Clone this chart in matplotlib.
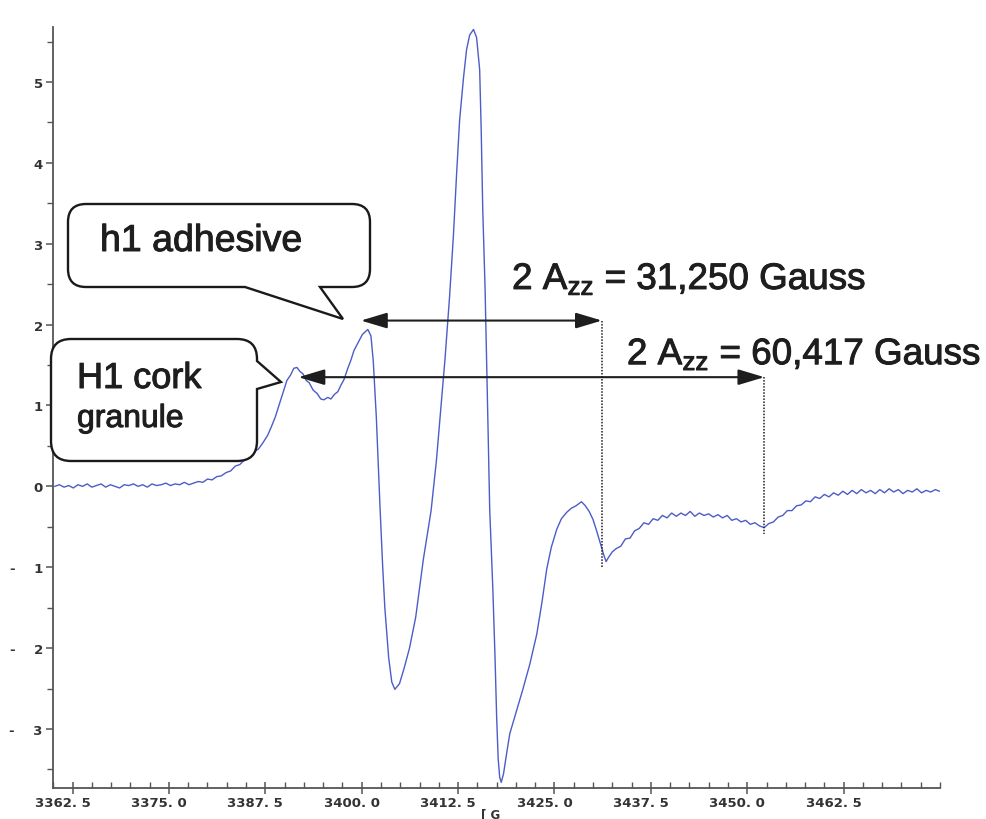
import matplotlib
matplotlib.use("Agg")
import matplotlib.pyplot as plt
import matplotlib.transforms as mtransforms
import matplotlib.patheffects as pe
from matplotlib.path import Path
from matplotlib.patches import PathPatch

# EPR spectrum: field [G] and first-derivative signal
field_g = [
    3360.2, 3360.8, 3361.4, 3362.0, 3362.6, 3363.2, 3363.8, 3364.4, 3365.0, 3365.6,
    3366.2, 3366.8, 3367.4, 3368.0, 3368.6, 3369.2, 3369.8, 3370.4, 3371.0, 3371.6,
    3372.2, 3372.8, 3373.4, 3374.0, 3374.6, 3375.2, 3375.8, 3376.4, 3377.0, 3377.6,
    3378.2, 3378.8, 3379.4,
    3380.0, 3380.6, 3381.2, 3381.8, 3382.4, 3383.0, 3383.6, 3384.2, 3384.8, 3385.4,
    3386.0, 3386.6, 3387.2, 3387.8, 3388.3, 3388.8, 3389.3, 3389.8, 3390.3, 3390.8,
    3391.2, 3391.6, 3392.0, 3392.4, 3392.8, 3393.2, 3393.7, 3394.2, 3394.7, 3395.1,
    3395.6, 3396.0, 3396.5, 3396.9, 3397.3, 3397.7, 3398.2, 3398.6, 3399.0, 3399.5,
    3400.1, 3400.8, 3401.2, 3401.5, 3401.9, 3402.35, 3402.7, 3403.0, 3403.5, 3403.9,
    3404.3, 3404.9, 3405.5, 3406.2, 3407.0, 3408.0, 3409.0, 3409.7, 3410.3, 3410.8,
    3411.4, 3411.9, 3412.3, 3412.7, 3413.2, 3413.6, 3414.0, 3414.5, 3414.9, 3415.3,
    3415.5, 3415.7, 3416.0, 3416.2, 3416.4, 3416.6, 3417.0, 3417.3, 3417.5, 3417.7,
    3417.9, 3418.1, 3418.4, 3418.8, 3419.2, 3420.0, 3420.9, 3421.8, 3422.7, 3423.4,
    3424.0, 3424.6, 3425.3, 3425.9, 3426.6, 3427.2, 3427.8, 3428.5, 3429.0, 3429.5,
    3430.0, 3430.5, 3431.0, 3431.4, 3431.7, 3432.0, 3432.5,
    3433.0, 3433.6, 3434.2, 3434.8, 3435.4, 3436.0, 3436.6, 3437.2, 3437.8, 3438.4,
    3439.0, 3439.6, 3440.2, 3440.8, 3441.4, 3442.0, 3442.6, 3443.2, 3443.8, 3444.4,
    3445.0, 3445.6, 3446.2, 3446.8, 3447.4, 3448.0, 3448.6, 3449.2, 3449.8, 3450.4,
    3451.0, 3451.6, 3452.2, 3452.8, 3453.4, 3454.0, 3454.6, 3455.2, 3455.8, 3456.4,
    3457.0, 3457.6, 3458.2, 3458.8, 3459.4, 3460.0, 3460.6, 3461.2, 3461.8, 3462.4,
    3463.0, 3463.6, 3464.2, 3464.8, 3465.4, 3466.0, 3466.6, 3467.2, 3467.8, 3468.4,
    3469.0, 3469.6, 3470.2, 3470.8, 3471.4, 3472.0, 3472.6, 3473.2, 3473.8, 3474.4,
    3474.9,
]
signal = [
    0.00, 0.02, -0.01, 0.01, -0.02, 0.02, 0.00, 0.03, -0.01, 0.01,
    0.03, -0.01, 0.02, 0.00, -0.02, 0.02, 0.01, 0.03, 0.00, 0.02,
    -0.01, 0.03, 0.01, 0.02, 0.04, 0.01, 0.03, 0.02, 0.05, 0.02,
    0.04, 0.06, 0.05,
    0.09, 0.08, 0.12, 0.13, 0.17, 0.19, 0.25, 0.27, 0.33, 0.36,
    0.43, 0.46, 0.54, 0.63, 0.74, 0.86, 1.01, 1.16, 1.31, 1.38,
    1.46, 1.47, 1.42, 1.39, 1.31, 1.28, 1.19, 1.15, 1.08, 1.07,
    1.10, 1.08, 1.14, 1.17, 1.25, 1.32, 1.46, 1.56, 1.68, 1.77,
    1.88, 1.94, 1.86, 1.55, 0.85, -0.20, -0.95, -1.50, -2.12, -2.42,
    -2.51, -2.44, -2.25, -2.00, -1.62, -0.90, -0.30, 0.33, 1.00, 1.57,
    2.35, 3.11, 3.85, 4.53, 5.05, 5.40, 5.58, 5.65, 5.55, 5.15,
    4.40, 3.42, 2.45, 1.57, 0.65, -0.28, -1.25, -2.14, -2.85, -3.37,
    -3.60, -3.66, -3.55, -3.30, -3.06, -2.80, -2.51, -2.20, -1.83, -1.42,
    -1.02, -0.75, -0.53, -0.40, -0.32, -0.27, -0.24, -0.19, -0.24, -0.31,
    -0.41, -0.56, -0.72, -0.85, -0.93, -0.88, -0.81,
    -0.77, -0.74, -0.65, -0.64, -0.55, -0.52, -0.45, -0.47, -0.40, -0.42,
    -0.36, -0.39, -0.33, -0.37, -0.33, -0.36, -0.31, -0.37, -0.33, -0.36,
    -0.34, -0.38, -0.35, -0.39, -0.36, -0.42, -0.40, -0.44, -0.42, -0.47,
    -0.45, -0.49, -0.51, -0.46, -0.44, -0.38, -0.36, -0.30, -0.30, -0.24,
    -0.23, -0.18, -0.19, -0.13, -0.15, -0.10, -0.13, -0.08, -0.11, -0.06,
    -0.10, -0.05, -0.09, -0.04, -0.08, -0.05, -0.09, -0.04, -0.08, -0.03,
    -0.07, -0.04, -0.09, -0.05, -0.07, -0.03, -0.08, -0.05, -0.07, -0.04,
    -0.06,
]

x_ticks = [3362.5, 3375.0, 3387.5, 3400.0, 3412.5, 3425.0, 3437.5, 3450.0, 3462.5]
x_labels = ["3362. 5", "3375. 0", "3387. 5", "3400. 0", "3412. 5",
            "3425. 0", "3437. 5", "3450. 0", "3462. 5"]
y_ticks = [-3, -2, -1, 0, 1, 2, 3, 4, 5]
y_labels = ["-    3", "-    2", "-    1", "0", "1", "2", "3", "4", "5"]

# 2Azz splittings: start field, width [G], arrow height
azz_start = [3399.9, 3391.8]
azz_width = [31.25, 60.417]
azz_level = [2.05, 1.35]
azz_text = ["2 A$\\mathregular{_{zz}}$ = 31,250 Gauss",
            "2 A$\\mathregular{_{zz}}$ = 60,417 Gauss"]

W, H = 986, 820
INK = "#1e1e1e"
heavy = [pe.withStroke(linewidth=0.7, foreground=INK)]

fig = plt.figure(figsize=(W / 100, H / 100), dpi=100)
fig.patch.set_facecolor("white")
ax = fig.add_axes([52.5 / W, (H - 789) / H, (940 - 52.5) / W, (789 - 28) / H])
ax.set_facecolor("white")

ax.plot(field_g, signal, color="#4c5cc8", lw=1.0, zorder=3)

ax.set_xlim(3359.9, 3475.0)
ax.set_ylim(-3.73, 5.68)

for side in ["top", "right"]:
    ax.spines[side].set_visible(False)
for side in ["left", "bottom"]:
    ax.spines[side].set_color("#555555")
    ax.spines[side].set_linewidth(1.3)

tick_font = {"family": "DejaVu Sans", "weight": "bold", "size": 9.5}
ax.set_xticks(x_ticks)
ax.set_xticklabels(x_labels, fontdict=tick_font, color="#333333")
ax.set_xticks([3360.0 + 2.5 * i for i in range(47)], minor=True)
ax.set_yticks(y_ticks)
ax.set_yticklabels(y_labels, fontdict=tick_font, color="#333333")
ax.set_yticks([-3.5 + 0.5 * i for i in range(19)], minor=True)
ax.tick_params(axis="x", which="major", direction="inout", length=8, width=1.1,
               color="#555555", pad=2)
ax.tick_params(axis="x", which="minor", direction="in", length=4, width=1.0,
               color="#555555")
ax.tick_params(axis="y", which="major", direction="out", length=5, width=1.1,
               color="#555555", pad=2)
ax.tick_params(axis="y", which="minor", direction="out", length=4, width=1.0,
               color="#555555")

# decimal point sits on the tick
shift = mtransforms.ScaledTranslation(-0.10, 0, fig.dpi_scale_trans)
for lbl in ax.get_xticklabels():
    lbl.set_transform(lbl.get_transform() + shift)

fig.text(481 / W, 1 - 808 / H, "[ G", ha="left", va="top",
         family="DejaVu Sans", weight="bold", size=8.5, color="#333333")

# splitting arrows with dotted drop lines onto the spectrum
for x0, w, y, txt, tx, ty in zip(azz_start, azz_width, azz_level, azz_text,
                                  [3419.5, 3434.4], [2.44, 1.51]):
    x1 = x0 + w
    ax.annotate("", xy=(x0, y), xytext=(x1, y),
                arrowprops=dict(arrowstyle="<|-|>,head_length=1.0,head_width=0.3",
                                mutation_scale=16, color=INK, lw=1.5,
                                shrinkA=0, shrinkB=0), zorder=4)
    y_bottom = min(s for f, s in zip(field_g, signal) if abs(f - x1) < 0.8) - 0.08
    ax.plot([x1, x1], [y, y_bottom], color=INK, lw=1.1, ls=(0, (1, 1)), zorder=4)
    ax.text(tx, ty, txt, ha="left", va="baseline", fontsize=26.5,
            family="Liberation Sans", color=INK, zorder=5, path_effects=heavy)


def bubble(l, t, r, b, rad, side, tail):
    pts, codes = [], []

    def add(p, c):
        pts.append((p[0], H - p[1]))
        codes.append(c)

    def corner(c, p):
        add(c, Path.CURVE3)
        add(p, Path.CURVE3)

    add((l + rad, t), Path.MOVETO)
    add((r - rad, t), Path.LINETO)
    corner((r, t), (r, t + rad))
    if side == "right":
        for p in tail:
            add(p, Path.LINETO)
    add((r, b - rad), Path.LINETO)
    corner((r, b), (r - rad, b))
    if side == "bottom":
        for p in tail:
            add(p, Path.LINETO)
    add((l + rad, b), Path.LINETO)
    corner((l, b), (l, b - rad))
    add((l, t + rad), Path.LINETO)
    corner((l, t), (l + rad, t))
    add((l + rad, t), Path.CLOSEPOLY)
    patch = PathPatch(Path(pts, codes), transform=mtransforms.IdentityTransform(),
                      facecolor="white", edgecolor="#1a1a1a", lw=1.7,
                      joinstyle="miter", zorder=6)
    fig.add_artist(patch)


bubble(68, 205, 370, 288, 18, "bottom", [(320, 288), (343, 320), (245, 288)])
bubble(51, 340, 257, 462, 20, "right", [(257, 362), (281, 383), (257, 390)])

fig.text(100 / W, 1 - 252 / H, "h1 adhesive", fontsize=27, family="Liberation Sans",
         color=INK, va="baseline", zorder=7, path_effects=heavy)
fig.text(77 / W, 1 - 389 / H, "H1 cork", fontsize=26, family="Liberation Sans",
         color=INK, va="baseline", zorder=7, path_effects=heavy)
fig.text(77 / W, 1 - 428 / H, "granule", fontsize=23, family="Liberation Sans",
         color=INK, va="baseline", zorder=7, path_effects=heavy)

fig.savefig("out.png", dpi=100, facecolor="white")
